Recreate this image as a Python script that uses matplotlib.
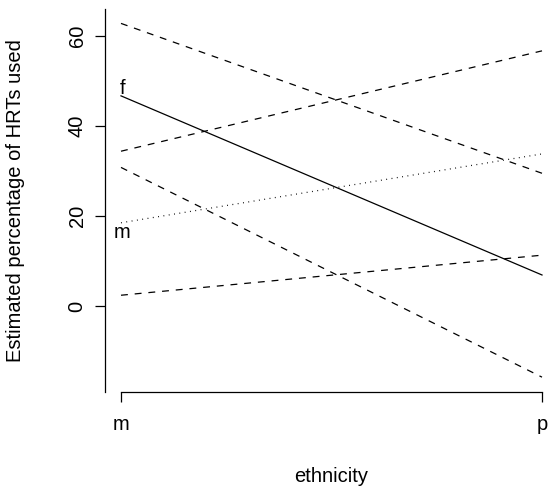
import matplotlib
matplotlib.use("Agg")
import matplotlib.pyplot as plt
import matplotlib.transforms as mtransforms

plt.rcParams['font.family'] = ['Liberation Sans', 'DejaVu Sans']

# estimated % of HRTs used by ethnicity, with confidence limits per sex
ethnicity = ["m", "p"]
f_est = [46.7, 6.9]
f_upper = [62.8, 29.5]
f_lower = [30.8, -15.8]
m_est = [18.5, 33.8]
m_upper = [34.4, 56.7]
m_lower = [2.4, 11.3]
y_ticks = [0, 20, 40, 60]

W, H = 548, 488
fig = plt.figure(figsize=(W / 100, H / 100), dpi=100)
ax = fig.add_axes([105 / W, (H - 392) / H, (W - 105) / W, (392 - 9) / H])

xpos = [1, 2]
lw = 0.9
dash = (5.5, 5.5)
dot = (0.7, 3.6)

ax.plot(xpos, f_est, color="black", lw=lw)
ax.plot(xpos, f_upper, color="black", lw=lw, dashes=dash)
ax.plot(xpos, f_lower, color="black", lw=lw, dashes=dash)
ax.plot(xpos, m_est, color="black", lw=lw, dashes=dot)
ax.plot(xpos, m_upper, color="black", lw=lw, dashes=dash)
ax.plot(xpos, m_lower, color="black", lw=lw, dashes=dash)

fs = 14.5
ax.annotate("f", xy=(1, f_est[0]), xytext=(1.5, 2), textcoords="offset pixels",
            ha="center", va="baseline", fontsize=fs)
ax.annotate("m", xy=(1, m_est[0]), xytext=(1.5, -15.5), textcoords="offset pixels",
            ha="center", va="baseline", fontsize=fs)

ax.set_xlim(1 - 16 / 421, 2 + 6 / 421)
ax.set_ylim(-19.1, 66.0)

for s in ["top", "right"]:
    ax.spines[s].set_visible(False)
ax.spines["bottom"].set_bounds(1, 2)
ax.spines["left"].set_linewidth(lw)
ax.spines["bottom"].set_linewidth(lw)

ax.set_xticks(xpos)
ax.set_xticklabels(ethnicity)
ax.set_yticks(y_ticks)
ax.set_yticklabels([str(v) for v in y_ticks], rotation=90, va="center")
ax.tick_params(axis="both", direction="out", length=7.2, width=lw, labelsize=fs)
ax.tick_params(axis="y", pad=6)
ax.tick_params(axis="x", pad=9)

ax.set_ylabel("Estimated percentage of HRTs used", fontsize=fs)
ylab_tr = mtransforms.blended_transform_factory(fig.transFigure, ax.transAxes)
ax.yaxis.set_label_coords(25 / W, 0.5, transform=ylab_tr)

tr = mtransforms.blended_transform_factory(ax.transData, fig.transFigure)
ax.text(1.5, (H - 482) / H, "ethnicity", transform=tr, ha="center",
        va="baseline", fontsize=fs)

fig.savefig("out.png", dpi=100)
